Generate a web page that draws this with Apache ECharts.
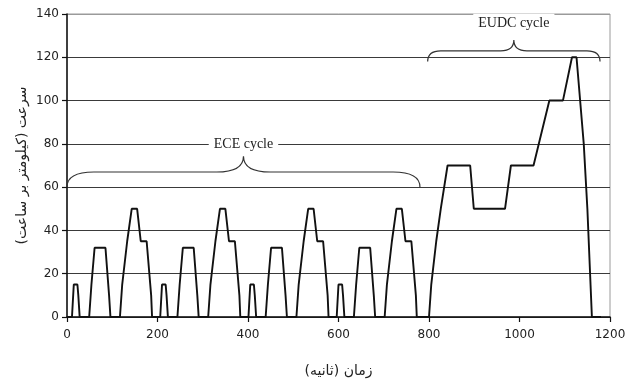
<!DOCTYPE html>
<html>
<head>
<meta charset="utf-8">
<script src="https://cdn.jsdelivr.net/npm/echarts@6/dist/echarts.min.js"></script>
<style>
  html, body { margin: 0; padding: 0; background: #fff; }
  #chart { width: 632px; height: 383px; }
</style>
</head>
<body>
<div id="chart"></div>
<script>
// NEDC speed profile: 4 x ECE cycle, then EUDC (time in s, speed in km/h)
const timeS = [
  0, 11, 15, 23, 25, 28, 49, 54, 56, 61, 85, 93, 96, 117, 122, 124, 133, 135, 143, 155, 163, 176, 186, 188,
  195, 206, 210, 218, 220, 223, 244, 249, 251, 256, 280, 288, 291, 312, 317, 319, 328, 330, 338, 350, 358, 371, 381, 383,
  390, 401, 405, 413, 415, 418, 439, 444, 446, 451, 475, 483, 486, 507, 512, 514, 523, 525, 533, 545, 553, 566, 576, 578,
  585, 596, 600, 608, 610, 613, 634, 639, 641, 646, 670, 678, 681, 702, 707, 709, 718, 720, 728, 740, 748, 761, 771, 773,
  780, 800, 805, 807, 816, 818, 826, 828, 841, 891, 899, 968, 981, 1031, 1066, 1096, 1116, 1126, 1142, 1150, 1160, 1180
]
const speedKmh = [
  0, 0, 15, 15, 10, 0, 0, 15, 15, 32, 32, 10, 0, 0, 15, 15, 35, 35, 50, 50, 35, 35, 10, 0,
  0, 0, 15, 15, 10, 0, 0, 15, 15, 32, 32, 10, 0, 0, 15, 15, 35, 35, 50, 50, 35, 35, 10, 0,
  0, 0, 15, 15, 10, 0, 0, 15, 15, 32, 32, 10, 0, 0, 15, 15, 35, 35, 50, 50, 35, 35, 10, 0,
  0, 0, 15, 15, 10, 0, 0, 15, 15, 32, 32, 10, 0, 0, 15, 15, 35, 35, 50, 50, 35, 35, 10, 0,
  0, 0, 15, 15, 35, 35, 50, 50, 70, 70, 50, 50, 70, 70, 100, 100, 120, 120, 80, 50, 0, 0
]

// cycle braces: [start s, end s, tip km/h, flat km/h, peak km/h, label km/h]
const braceNames = ['ECE cycle', 'EUDC cycle']
const braceSpans = [
  [0, 780, 60, 67, 74.3, 80],
  [797, 1178, 118, 123, 128, 135.5]
]

const xTicks = [0, 200, 400, 600, 800, 1000, 1200]
const yTicks = [0, 20, 40, 60, 80, 100, 120, 140]

const chart = echarts.init(document.getElementById('chart'))

const gridColors = yTicks.map((v, i) => (i === yTicks.length - 1 ? '#9a9a9a' : '#3a3a3a'))

const option = {
  animation: false,
  grid: {
    left: 67, right: 22, top: 14, bottom: 62,
    show: true, borderColor: '#9a9a9a', borderWidth: 1
  },
  xAxis: {
    type: 'value',
    min: xTicks[0], max: xTicks[xTicks.length - 1], interval: 200,
    name: '\u200Fزمان (ثانیه)\u200F',
    nameLocation: 'middle',
    nameGap: 47,
    nameTextStyle: { fontFamily: 'DejaVu Sans', fontSize: 14, color: '#222' },
    axisLine: { lineStyle: { color: '#111', width: 1.5 } },
    axisTick: { show: true, length: 5, lineStyle: { color: '#111', width: 1.2 } },
    axisLabel: { fontFamily: 'DejaVu Sans', fontSize: 12, color: '#222', margin: 12, formatter: v => String(v) },
    splitLine: { show: false }
  },
  yAxis: {
    type: 'value',
    min: yTicks[0], max: yTicks[yTicks.length - 1], interval: 20,
    name: '\u200Fسرعت (کیلومتر بر ساعت)\u200F',
    nameLocation: 'middle',
    nameRotate: 90,
    nameGap: 38,
    nameMoveOverlap: false,
    nameTextStyle: { fontFamily: 'DejaVu Sans', fontSize: 14, color: '#222' },
    axisLine: { show: true, lineStyle: { color: '#111', width: 1.5 } },
    axisTick: { show: true, length: 5, lineStyle: { color: '#111', width: 1.2 } },
    axisLabel: { fontFamily: 'DejaVu Sans', fontSize: 12, color: '#222', margin: 8 },
    splitLine: { show: true, lineStyle: { color: gridColors, width: 1.2 } }
  },
  series: [
    {
      type: 'line',
      data: timeS.map((t, i) => [t, speedKmh[i]]),
      symbol: 'none',
      lineStyle: { color: '#111', width: 1.9 },
      z: 3
    },
    {
      type: 'custom',
      data: braceSpans,
      clip: false,
      z: 4,
      renderItem: (params, api) => {
        const x0 = api.value(0), x1 = api.value(1)
        const xm = (x0 + x1) / 2
        const a = api.coord([x0, api.value(2)])
        const b = api.coord([x1, api.value(2)])
        const yf = api.coord([x0, api.value(3)])[1]
        const m = api.coord([xm, api.value(4)])
        const t = api.coord([xm, api.value(5)])
        const r = (b[0] - a[0]) * 0.076
        const d = [
          'M', a[0], a[1],
          'Q', a[0], yf, a[0] + r, yf,
          'L', m[0] - r, yf,
          'Q', m[0], yf, m[0], m[1],
          'Q', m[0], yf, m[0] + r, yf,
          'L', b[0] - r, yf,
          'Q', b[0], yf, b[0], b[1]
        ].join(' ')
        return {
          type: 'group',
          children: [
            {
              type: 'path',
              shape: { pathData: d },
              style: { fill: null, stroke: '#333', lineWidth: 1.2 }
            },
            {
              type: 'text',
              style: {
                text: braceNames[params.dataIndex],
                x: t[0], y: t[1],
                align: 'center', verticalAlign: 'middle',
                font: '14px "Liberation Serif"',
                fill: '#222',
                backgroundColor: '#fff',
                padding: [4, 5, 2, 5]
              }
            }
          ]
        }
      }
    }
  ]
}

chart.setOption(option)
</script>
</body>
</html>
